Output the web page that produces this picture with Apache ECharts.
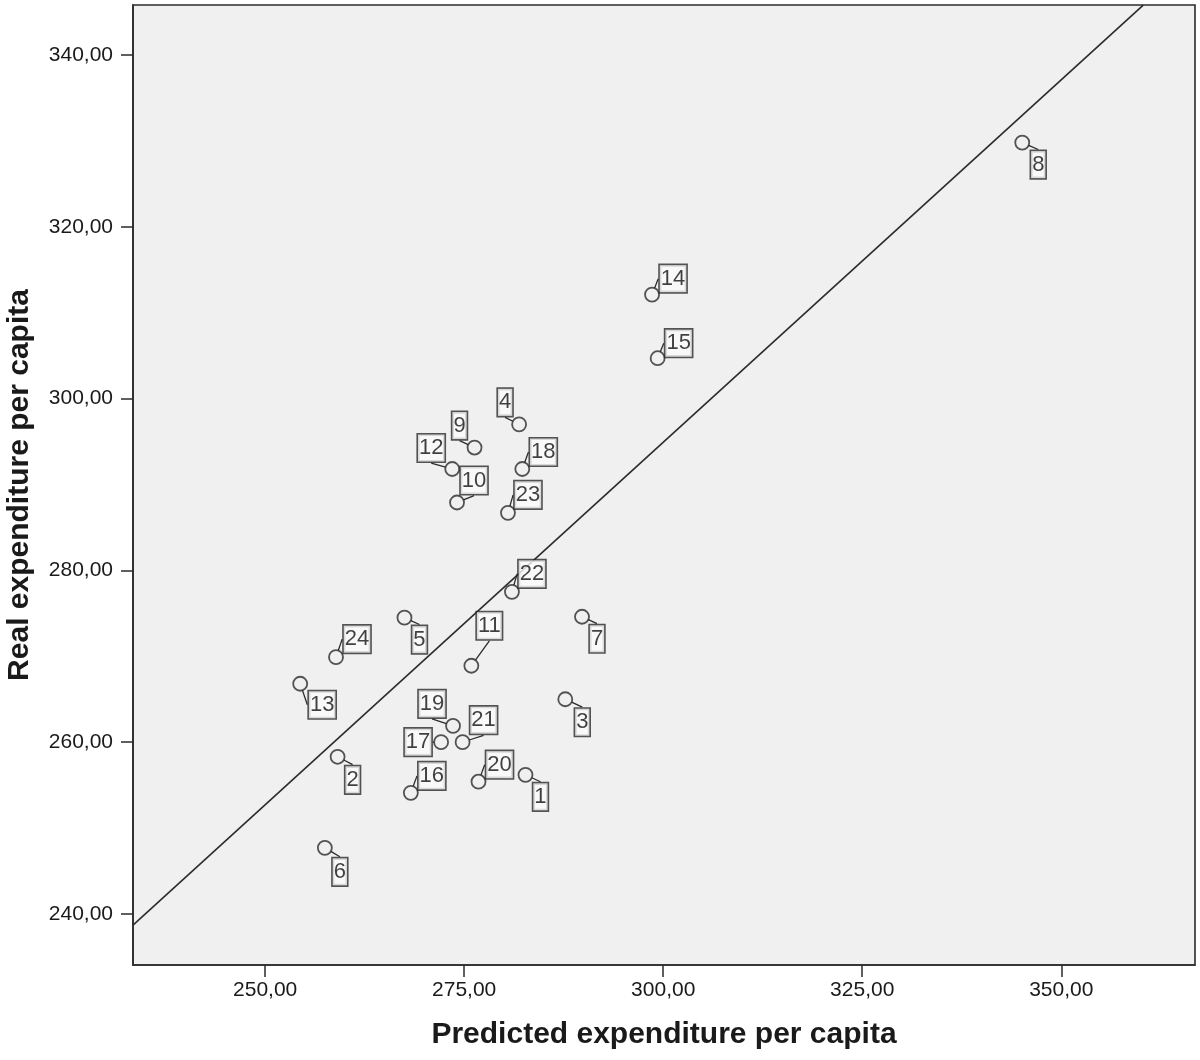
<!DOCTYPE html>
<html>
<head>
<meta charset="utf-8">
<title>Predicted vs real expenditure per capita</title>
<script src="https://cdn.jsdelivr.net/npm/echarts@6/dist/echarts.min.js"></script>
<style>
  html, body { margin: 0; padding: 0; background: #fff; }
  #chart { width: 1200px; height: 1060px; }
</style>
</head>
<body>
<div id="chart"></div>
<script>
// case numbers, predicted (x) and real (y) expenditure per capita
const caseIds = [1, 2, 3, 4, 5, 6, 7, 8, 9, 10, 11, 12, 13, 14, 15, 16, 17, 18, 19, 20, 21, 22, 23, 24]
const predicted = [282.7, 259.1, 287.7, 281.9, 267.5, 257.5, 289.8, 345.1, 276.3, 274.1, 275.9, 273.5,
  254.4, 298.6, 299.3, 268.3, 272.1, 282.3, 273.6, 276.8, 274.8, 281.0, 280.5, 258.9]
const real = [256.2, 258.3, 265.0, 297.0, 274.5, 247.7, 274.6, 329.8, 294.3, 287.9, 268.9, 291.8,
  266.8, 312.1, 304.7, 254.1, 260.0, 291.8, 261.9, 255.4, 260.0, 277.5, 286.7, 269.9]

// fit line, read at the two ends where it leaves the plot
const fitX = [233.4, 360.3]
const fitY = [238.7, 345.8]

const xTicks = [250, 275, 300, 325, 350]
const yTicks = [240, 260, 280, 300, 320, 340]

// where each case label box sits, relative to its point (px)
const labelOffsets = [
  [15, 22], [15, 23], [17, 23], [-14, -22], [15, 22], [15, 24], [15, 22], [16, 22],
  [-15, -22], [17, -22], [18, -40], [-21, -21], [22, 21], [21, -16], [21, -15], [21, -17],
  [-23, 0], [21, -17], [-21, -22], [21, -17], [21, -22], [20, -18], [20, -18], [21, -18]
]

const fmt = v => v.toFixed(2).replace('.', ',')
const dark = '#2b2b2b'
const font = 'Liberation Sans, Arial, sans-serif'

const points = predicted.map((x, i) => [x, real[i], caseIds[i]])

const chart = echarts.init(document.getElementById('chart'))
chart.setOption({
  animation: false,
  backgroundColor: '#fff',
  grid: {
    left: 133,
    right: 5,
    top: 5,
    bottom: 95,
    outerBoundsMode: 'none',
    show: true,
    backgroundColor: '#f0f0f0',
    borderColor: dark,
    borderWidth: 1.6
  },
  xAxis: {
    type: 'value',
    min: 233.4,
    max: 366.8,
    name: 'Predicted expenditure per capita',
    nameLocation: 'middle',
    nameGap: 55,
    nameTextStyle: { fontFamily: font, fontWeight: 'bold', fontSize: 30, color: '#1a1a1a' },
    splitLine: { show: false },
    axisLine: { show: true, onZero: false, lineStyle: { color: dark, width: 1.6 } },
    axisTick: { show: true, length: 12, customValues: xTicks, lineStyle: { color: dark, width: 1.5 } },
    axisLabel: {
      customValues: xTicks,
      formatter: fmt,
      margin: 15,
      fontFamily: font,
      fontSize: 21,
      color: '#1a1a1a'
    }
  },
  yAxis: {
    type: 'value',
    min: 234.06,
    max: 345.82,
    name: 'Real expenditure per capita',
    nameLocation: 'middle',
    nameGap: 98,
    nameTextStyle: { fontFamily: font, fontWeight: 'bold', fontSize: 30, color: '#1a1a1a' },
    splitLine: { show: false },
    axisLine: { show: true, onZero: false, lineStyle: { color: dark, width: 1.6 } },
    axisTick: { show: true, length: 12, customValues: yTicks, lineStyle: { color: dark, width: 1.5 } },
    axisLabel: {
      customValues: yTicks,
      formatter: fmt,
      margin: 20,
      fontFamily: font,
      fontSize: 21,
      color: '#1a1a1a'
    }
  },
  series: [
    {
      type: 'line',
      data: fitX.map((x, i) => [x, fitY[i]]),
      symbol: 'none',
      silent: true,
      z: 1,
      lineStyle: { color: dark, width: 1.6 }
    },
    {
      type: 'scatter',
      data: points,
      symbol: 'circle',
      symbolSize: 14,
      z: 3,
      itemStyle: {
        color: 'transparent',
        borderColor: dark,
        borderWidth: 1.8
      },
      label: {
        show: true,
        position: 'inside',
        formatter: p => String(p.value[2]),
        fontFamily: font,
        fontSize: 22,
        lineHeight: 24,
        color: '#111',
        backgroundColor: '#fbfbfb',
        borderColor: dark,
        borderWidth: 1.6,
        padding: [2, 1, 1, 1]
      },
      labelLine: {
        show: true,
        lineStyle: { color: dark, width: 1.3 }
      },
      labelLayout: p => ({
        dx: labelOffsets[p.dataIndex][0],
        dy: labelOffsets[p.dataIndex][1]
      })
    }
  ]
})
</script>
</body>
</html>
